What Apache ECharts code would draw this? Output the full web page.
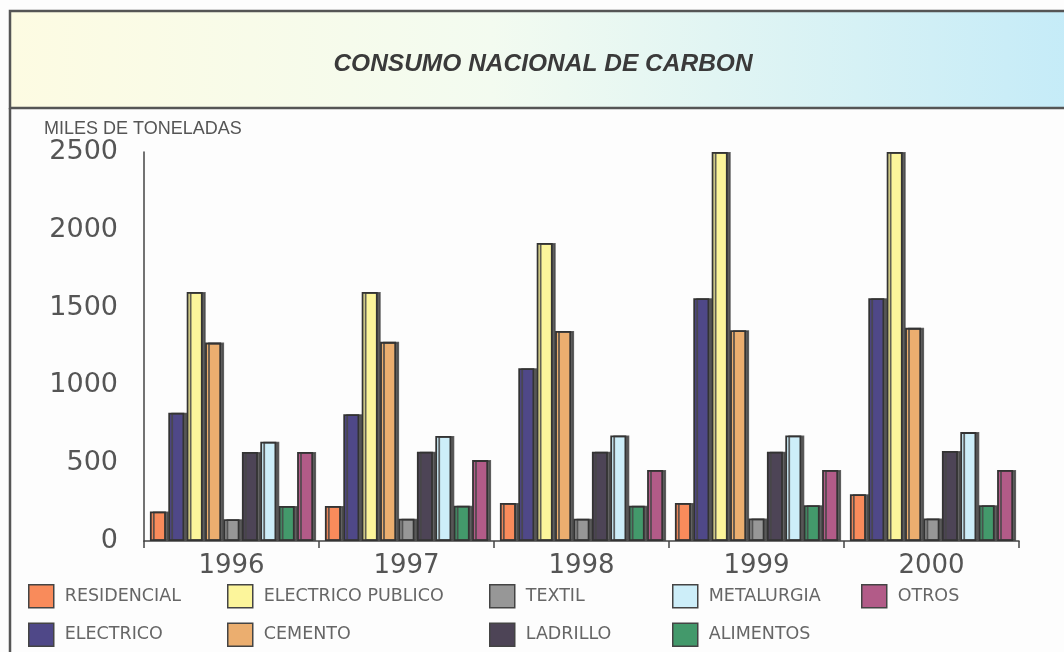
<!DOCTYPE html>
<html>
<head>
<meta charset="utf-8">
<script src="https://cdn.jsdelivr.net/npm/echarts@6/dist/echarts.min.js"></script>
<style>html,body{margin:0;padding:0;background:#fdfdfd}#c{width:1064px;height:652px}</style>
</head>
<body>
<div id="c"></div>
<script>
const years = ['1996', '1997', '1998', '1999', '2000'];
const residencial = [190, 225, 245, 245, 300];
const electrico = [825, 815, 1110, 1560, 1560];
const electricoPublico = [1600, 1600, 1915, 2500, 2500];
const cemento = [1275, 1280, 1350, 1355, 1370];
const textil = [140, 143, 143, 145, 145];
const ladrillo = [572, 574, 574, 574, 578];
const metalurgia = [638, 675, 678, 678, 700];
const alimentos = [225, 227, 227, 230, 230];
const otros = [572, 520, 456, 456, 456];
const yTicks = [0, 500, 1000, 1500, 2000, 2500];

const seriesDefs = [
  ['RESIDENCIAL', residencial, '#f98b5b'],
  ['ELECTRICO', electrico, '#4f4888'],
  ['ELECTRICO PUBLICO', electricoPublico, '#fcf59b'],
  ['CEMENTO', cemento, '#ebae6f'],
  ['TEXTIL', textil, '#979797'],
  ['LADRILLO', ladrillo, '#4d4456'],
  ['METALURGIA', metalurgia, '#cdeef9'],
  ['ALIMENTOS', alimentos, '#43996b'],
  ['OTROS', otros, '#b25b88']
];
const legendCols = [
  [28, ['RESIDENCIAL', 'ELECTRICO']],
  [227, ['ELECTRICO PUBLICO', 'CEMENTO']],
  [489, ['TEXTIL', 'LADRILLO']],
  [672, ['METALURGIA', 'ALIMENTOS']],
  [861, ['OTROS']]
];

const chart = echarts.init(document.getElementById('c'));
const option = {
  backgroundColor: '#fdfdfd',
  animation: false,
  title: [
    {
      text: 'CONSUMO NACIONAL DE CARBON',
      left: 538, top: 47, textAlign: 'center', z: 10,
      textStyle: {fontFamily: 'Liberation Sans', fontStyle: 'italic', fontWeight: 'bold', fontSize: 24.5, color: '#3a3a3a'}
    },
    {
      text: 'MILES DE TONELADAS',
      left: 39, top: 115, z: 10,
      textStyle: {fontFamily: 'Liberation Sans', fontWeight: 'normal', fontSize: 18, color: '#555'}
    }
  ],
  graphic: [
    {
      type: 'rect', z: 0, silent: true,
      shape: {x: 10, y: 11, width: 1070, height: 97},
      style: {
        fill: new echarts.graphic.LinearGradient(0, 0, 1, 0, [
          {offset: 0, color: '#fdfbe2'},
          {offset: 0.45, color: '#f3fbf0'},
          {offset: 1, color: '#c4ebf8'}
        ]),
        stroke: '#555', lineWidth: 2.5
      }
    },
    {
      type: 'line', z: 0, silent: true,
      shape: {x1: 10, y1: 108, x2: 10, y2: 660},
      style: {stroke: '#555', lineWidth: 2.5}
    }
  ],
  legend: legendCols.map(([x, names]) => ({
    orient: 'vertical', left: x, top: 584, padding: 0,
    itemWidth: 25, itemHeight: 23, itemGap: 14,
    data: names, selectedMode: false,
    icon: 'rect',
    itemStyle: {borderColor: '#444', borderWidth: 1.5, shadowColor: 'transparent', shadowOffsetX: 0},
    textStyle: {fontFamily: 'DejaVu Sans', fontSize: 17.5, color: '#666', padding: [0, 0, 0, 6]}
  })),
  grid: {left: 144, right: 45, top: 152, bottom: 111},
  xAxis: {
    type: 'category', data: years,
    axisLine: {lineStyle: {color: '#444', width: 1.5}},
    axisTick: {show: true, length: 7, lineStyle: {color: '#444', width: 1.5}},
    axisLabel: {fontFamily: 'DejaVu Sans', fontSize: 26, color: '#555', margin: 12}
  },
  yAxis: {
    type: 'value', min: yTicks[0], max: yTicks[yTicks.length - 1], interval: 500,
    axisLine: {show: true, lineStyle: {color: '#444', width: 1.5}},
    axisTick: {show: false},
    splitLine: {show: false},
    axisLabel: {fontFamily: 'DejaVu Sans', fontSize: 27, color: '#555', margin: 26, formatter: v => String(v)}
  },
  series: seriesDefs.map(([name, data, color]) => ({
    name, type: 'bar', data,
    barWidth: 16, barGap: '15%',
    itemStyle: {color, borderColor: '#333', borderWidth: 1.8, shadowColor: 'rgba(70,70,70,0.85)', shadowOffsetX: 3, shadowOffsetY: 0, shadowBlur: 0}
  }))
};
chart.setOption(option);
</script>
</body>
</html>
